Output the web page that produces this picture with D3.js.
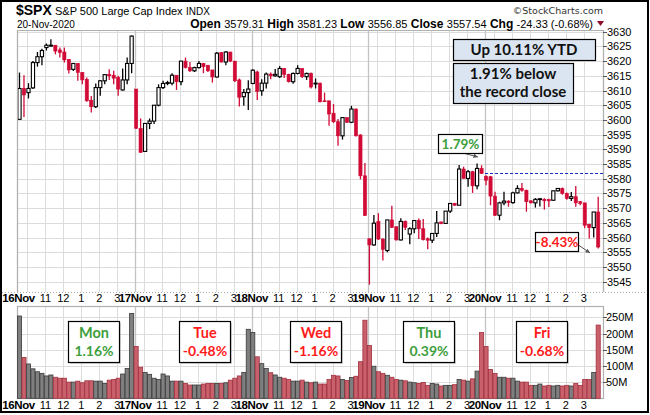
<!DOCTYPE html>
<html><head><meta charset="utf-8">
<script src="https://cdn.jsdelivr.net/npm/d3@7/dist/d3.min.js"></script>
<style>body{margin:0;background:#fff}svg{display:block}</style>
</head><body><svg id="c" width="650" height="415"></svg>
<script>
// ---------------- DATA ----------------
const days = ["16Nov", "17Nov", "18Nov", "19Nov", "20Nov"];
const barsPerDay = 26; // 15-minute bars 9:30-16:00
const hourTicks = [{bar: 2, label: ""}, {bar: 6, label: "11"}, {bar: 10, label: "12"}, {bar: 14, label: "1"}, {bar: 18, label: "2"}, {bar: 22, label: "3"}];
const open = [3600.2,3610.7,3609.3,3610.9,3619.5,3621.5,3624.6,3625.3,3625.4,3623.8,3623.1,3620.6,3617.2,3619.2,3616.1,3613.8,3606.7,3604.5,3611.0,3613.3,3615.5,3615.2,3614.4,3610.2,3613.6,3619.2,
  3610.5,3597.1,3589.3,3598.8,3599.6,3605.0,3611.0,3612.4,3612.5,3615.2,3613.0,3620.0,3617.8,3616.7,3617.8,3619.2,3618.6,3617.0,3614.6,3622.9,3619.7,3623.1,3620.0,3613.6,3607.9,3609.3,
  3612.4,3616.3,3609.9,3612.5,3615.6,3615.0,3614.7,3617.5,3615.5,3613.0,3615.8,3617.5,3614.7,3615.8,3612.3,3612.5,3606.5,3606.5,3602.3,3599.4,3594.6,3600.8,3599.2,3603.7,3594.9,3581.0,
  3559.6,3557.5,3565.5,3559.5,3555.6,3566.0,3563.7,3559.2,3565.5,3561.2,3563.0,3565.8,3563.0,3559.6,3559.1,3561.4,3565.3,3564.8,3569.0,3571.6,3571.0,3583.3,3580.1,3582.4,3577.6,3583.5,
  3580.8,3580.7,3574.1,3567.6,3571.8,3572.4,3571.9,3575.2,3576.7,3576.1,3572.5,3571.8,3573.0,3573.0,3572.9,3572.7,3575.9,3576.7,3575.0,3573.3,3573.9,3572.2,3571.8,3564.5,3563.4,3568.7];
const high = [3616.1,3615.2,3612.5,3620.0,3623.1,3624.2,3626.0,3627.4,3625.4,3624.6,3624.6,3620.6,3619.4,3619.4,3616.3,3614.4,3608.1,3612.4,3613.6,3615.5,3617.2,3616.7,3615.0,3617.5,3621.2,3628.7,
  3610.5,3600.5,3598.8,3600.5,3605.0,3612.1,3613.3,3613.3,3615.9,3615.2,3620.0,3621.2,3619.7,3618.1,3620.0,3619.4,3618.6,3617.0,3623.1,3623.1,3623.4,3623.1,3620.0,3614.1,3610.5,3613.5,
  3617.2,3616.7,3613.8,3616.1,3616.1,3617.3,3618.3,3617.7,3615.7,3616.1,3618.6,3617.5,3616.1,3616.1,3614.1,3612.7,3609.3,3606.5,3605.4,3600.3,3600.8,3600.8,3604.8,3603.9,3595.1,3585.4,
  3559.6,3567.7,3568.3,3559.8,3566.0,3570.8,3563.7,3566.6,3565.8,3563.5,3566.0,3566.5,3566.3,3560.0,3561.4,3569.0,3565.5,3569.0,3571.6,3571.8,3584.7,3584.1,3583.0,3582.7,3585.2,3584.6,
  3581.2,3580.9,3575.6,3572.2,3575.6,3572.7,3575.6,3577.8,3578.6,3576.3,3572.7,3573.4,3573.4,3573.4,3573.2,3575.9,3576.9,3577.0,3575.3,3575.5,3577.5,3572.4,3571.8,3564.7,3568.7,3573.9];
const low = [3600.2,3601.0,3607.3,3610.5,3618.1,3618.6,3623.6,3624.9,3622.3,3621.2,3619.5,3615.8,3616.6,3613.3,3612.1,3606.2,3602.5,3604.1,3608.2,3612.1,3613.6,3612.1,3608.2,3609.9,3612.1,3615.9,
  3596.9,3588.8,3589.2,3596.9,3598.6,3604.6,3610.5,3611.8,3611.8,3610.2,3611.8,3617.5,3616.3,3616.3,3617.5,3615.9,3616.3,3612.7,3614.4,3619.5,3618.6,3619.7,3612.9,3604.6,3604.8,3603.4,
  3612.1,3606.8,3608.2,3610.7,3613.8,3614.7,3614.3,3614.3,3612.7,3612.3,3615.5,3614.3,3613.6,3610.7,3610.7,3605.9,3606.1,3598.0,3598.9,3591.2,3593.3,3599.0,3598.9,3594.4,3579.8,3567.3,
  3544.0,3557.2,3559.2,3552.2,3555.0,3563.3,3559.0,3559.0,3562.6,3557.7,3561.5,3559.5,3559.0,3556.0,3558.2,3560.2,3564.5,3564.6,3568.4,3570.8,3571.0,3580.0,3577.3,3575.2,3576.4,3581.6,
  3577.8,3571.0,3567.3,3565.9,3571.0,3570.5,3571.5,3575.0,3575.6,3568.8,3571.6,3570.2,3570.6,3569.5,3570.4,3572.4,3575.7,3574.6,3572.9,3572.4,3570.5,3571.0,3563.2,3559.7,3560.0,3556.3];
const close = [3610.7,3608.5,3610.7,3619.5,3621.5,3623.6,3625.4,3625.4,3623.4,3622.9,3620.4,3617.0,3619.2,3616.1,3613.6,3606.5,3604.5,3611.0,3613.3,3615.4,3615.0,3614.2,3610.5,3613.6,3619.2,3628.5,
  3597.2,3589.0,3598.8,3599.6,3605.0,3611.0,3612.4,3612.7,3615.2,3613.0,3620.0,3617.8,3616.7,3617.8,3619.2,3618.1,3616.7,3614.6,3622.7,3619.7,3623.1,3620.0,3613.3,3607.7,3609.3,3610.5,
  3616.9,3609.7,3612.5,3615.6,3615.0,3615.5,3617.5,3615.5,3613.0,3615.8,3617.5,3614.7,3615.8,3611.2,3612.5,3606.2,3606.2,3602.0,3599.4,3594.6,3600.8,3599.2,3603.7,3594.6,3581.0,3567.5,
  3557.5,3564.9,3559.5,3556.0,3566.0,3563.5,3559.2,3565.5,3563.5,3563.0,3565.8,3563.0,3559.3,3559.1,3561.4,3565.0,3564.8,3569.0,3571.6,3571.0,3583.3,3580.1,3582.4,3577.6,3583.5,3581.8,
  3579.5,3574.1,3567.6,3571.8,3572.4,3571.9,3575.2,3576.7,3576.1,3572.2,3571.8,3573.0,3573.2,3572.5,3572.5,3575.9,3576.7,3575.0,3573.3,3573.9,3571.8,3571.6,3564.2,3563.4,3568.7,3556.8];
const volume = [254,126,106,91,82,77,69,72,65,62,62,50,50,53,48,54,54,53,53,46,56,58,62,75,92,262,
  160,96,80,74,62,58,75,69,53,53,53,46,41,41,41,44,46,46,46,46,48,56,62,69,80,213,
  203,128,107,92,79,72,65,62,58,53,53,56,50,48,50,44,44,58,71,69,58,55,64,68,113,241,
  163,99,82,77,71,65,58,56,54,50,48,46,49,40,46,44,38,40,40,42,58,56,53,60,84,203,
  160,89,77,65,65,62,62,53,50,50,40,40,44,38,40,38,40,38,40,38,46,40,58,58,80,226];
const priceTicks = d3.range(3545, 3631, 5);
const volTicks = [50, 100, 150, 200, 250];
const lastClosePrev = 3581.87;
const dayNotes = [{day: 0, name: "Mon", chg: "1.16%"}, {day: 1, name: "Tue", chg: "-0.48%"}, {day: 2, name: "Wed", chg: "-1.16%"}, {day: 3, name: "Thu", chg: "0.39%"}, {day: 4, name: "Fri", chg: "-0.68%"}];

// ---------------- LAYOUT ----------------
const svg = d3.select("#c");
const plotL = 17, plotR = 603, pTop = 30, pBot = 292, vTop = 306, vBot = 398;
const n = open.length;
const x = d3.scaleLinear().domain([0, n - 1]).range([19.5, 598.2]);
const y = d3.scaleLinear().domain([3545, 3630]).range([281.7, 31.7]);
const yv = d3.scaleLinear().domain([0, 250]).range([398.3, 317.3]);
const RED = "#d10a36", GREEN = "#3d9e3d", TXTRED = "#ff1a1a";
const lbl = "Liberation Sans, Arial, sans-serif";
const cal = "Lato, 'Open Sans', sans-serif";

svg.append("rect").attr("width", 650).attr("height", 415).attr("fill", "#fff");

// grid positions
const gridBars = [];
days.forEach((d, k) => {
  gridBars.push({i: k * barsPerDay, day: true, label: d});
  hourTicks.forEach(h => gridBars.push({i: k * barsPerDay + h.bar, day: false, label: h.label}));
});
const gx = i => x(i) - 1;

function panelGrid(top, bot, yTicks, ys) {
  const g = svg.append("g");
  g.selectAll("line.h").data(yTicks).join("line")
    .attr("x1", plotL).attr("x2", plotR).attr("y1", d => Math.round(ys(d)) + 0.5).attr("y2", d => Math.round(ys(d)) + 0.5)
    .attr("stroke", "#dcdcdc").attr("stroke-width", 1);
  g.selectAll("line.v").data(gridBars.filter(d => d.i > 0)).join("line")
    .attr("x1", d => Math.round(gx(d.i)) + 0.5).attr("x2", d => Math.round(gx(d.i)) + 0.5).attr("y1", top).attr("y2", bot)
    .attr("stroke", d => d.day ? "#c4c4c4" : "#dcdcdc").attr("stroke-width", d => d.day ? 1.3 : 1);
  return g;
}
panelGrid(pTop, pBot, priceTicks, y);
panelGrid(vTop, vBot, volTicks, yv);

// panel borders
svg.append("line").attr("x1", plotL + 0.5).attr("x2", plotL + 0.5).attr("y1", pTop).attr("y2", pBot).attr("stroke", "#b0b0b0").attr("stroke-width", 1.3);
svg.append("line").attr("x1", plotR + 0.5).attr("x2", plotR + 0.5).attr("y1", pTop).attr("y2", pBot).attr("stroke", "#b0b0b0").attr("stroke-width", 1.3);
svg.append("line").attr("x1", plotL).attr("x2", plotR).attr("y1", pTop + 0.5).attr("y2", pTop + 0.5).attr("stroke", "#b0b0b0");
svg.append("line").attr("x1", 2).attr("x2", 648).attr("y1", pBot + 0.5).attr("y2", pBot + 0.5).attr("stroke", "#aaa").attr("stroke-dasharray", "1,2");
svg.append("rect").attr("x", plotL + 0.5).attr("y", vTop + 0.5).attr("width", plotR - plotL).attr("height", vBot - vTop).attr("fill", "none").attr("stroke", "#b0b0b0").attr("stroke-width", 1.2);

// x-axis labels (two rows)
[pBot + 10, vBot + 11].forEach(yy => {
  svg.append("g").selectAll("text").data(gridBars.filter(d => d.label)).join("text")
    .attr("x", d => gx(d.i)).attr("y", yy).attr("text-anchor", "middle")
    .attr("font-family", lbl).attr("font-size", d => d.day ? 11.5 : 11).attr("font-weight", d => d.day ? "bold" : "normal")
    .attr("letter-spacing", d => d.day ? -0.4 : 0)
    .attr("fill", "#000").text(d => d.label);
});

// price axis
const pa = svg.append("g");
pa.selectAll("line").data(priceTicks).join("line").attr("x1", plotR).attr("x2", plotR + 4)
  .attr("y1", d => Math.round(y(d)) + 0.5).attr("y2", d => Math.round(y(d)) + 0.5).attr("stroke", "#555");
pa.selectAll("text").data(priceTicks).join("text").attr("x", plotR + 4).attr("y", d => y(d) + 4)
  .attr("font-family", lbl).attr("font-size", 11).attr("fill", "#000").text(d => d);
const va = svg.append("g");
va.selectAll("line").data(volTicks).join("line").attr("x1", plotR).attr("x2", plotR + 4)
  .attr("y1", d => Math.round(yv(d)) + 0.5).attr("y2", d => Math.round(yv(d)) + 0.5).attr("stroke", "#555");
va.selectAll("text").data(volTicks).join("text").attr("x", plotR + 3).attr("y", d => yv(d) + 4)
  .attr("font-family", lbl).attr("font-size", 11).attr("fill", "#000").text(d => d + "M");

// clip
svg.append("clipPath").attr("id", "pc").append("rect").attr("x", plotL + 1).attr("y", pTop + 1).attr("width", plotR - plotL - 1).attr("height", pBot - pTop - 1);

// dashed previous close line
svg.append("line").attr("x1", gx(4 * barsPerDay)).attr("x2", plotR).attr("y1", Math.round(y(lastClosePrev)) + 0.5).attr("y2", Math.round(y(lastClosePrev)) + 0.5)
  .attr("stroke", "#1a2bbf").attr("stroke-width", 1).attr("stroke-dasharray", "3,2");

// candles
const bars = d3.range(n).map(i => ({i, o: open[i], h: high[i], l: low[i], c: close[i], v: volume[i], up: close[i] >= open[i]}));
const cg = svg.append("g").attr("clip-path", "url(#pc)");
const bw = 3.2;
cg.selectAll("line").data(bars).join("line")
  .attr("x1", d => x(d.i)).attr("x2", d => x(d.i)).attr("y1", d => y(d.h)).attr("y2", d => y(d.l))
  .attr("stroke", d => d.up ? "#000" : RED).attr("stroke-width", 1.3);
cg.selectAll("rect").data(bars).join("rect")
  .attr("x", d => x(d.i) - bw / 2).attr("width", bw)
  .attr("y", d => y(Math.max(d.o, d.c))).attr("height", d => Math.max(0.8, Math.abs(y(d.o) - y(d.c))))
  .attr("fill", d => d.up ? "#fff" : RED).attr("stroke", d => d.up ? "#000" : RED).attr("stroke-width", d => d.up ? 1.1 : 0.6);

// volume
svg.append("g").selectAll("rect").data(bars).join("rect")
  .attr("x", d => x(d.i) - 2.05).attr("width", 4.1)
  .attr("y", d => yv(d.v)).attr("height", d => yv(0) - yv(d.v))
  .attr("fill", d => d.up ? "#7f7f7f" : "#c9616c").attr("stroke", d => d.up ? "#3a3a3a" : "#a22f3e").attr("stroke-width", 0.8);

// header
function hText(xp, yp, txt, size, weight, fam, fill) {
  return svg.append("text").attr("x", xp).attr("y", yp).attr("font-family", fam || lbl).attr("font-size", size)
    .attr("font-weight", weight || "normal").attr("fill", fill || "#000").text(txt);
}
hText(16, 15, "$SPX", 14, "bold");
hText(55, 14.5, "S&P 500 Large Cap Index", 11);
hText(186, 14.5, "INDX", 10);
hText(17, 27.5, "20-Nov-2020", 10);
hText(603, 13.5, "\u00A9StockCharts.com", 9.5, "normal", "DejaVu Sans, sans-serif", "#333").attr("text-anchor", "end");
const info = svg.append("text").attr("x", 593).attr("y", 27.5).attr("text-anchor", "end").attr("font-family", lbl).attr("font-size", 11);
[["Open", "3579.31"], ["High", "3581.23"], ["Low", "3556.85"], ["Close", "3557.54"], ["Chg", "-24.33 (-0.68%)"]].forEach((p, k) => {
  info.append("tspan").attr("font-weight", "bold").attr("font-size", 12).text((k ? "  " : "") + p[0] + " ");
  info.append("tspan").text(p[1]);
});
svg.append("path").attr("d", "M597,21 L604,21 L600.5,26 Z").attr("fill", "#8e0b2b");

// annotation boxes top-right
function box(x0, y0, w, h, fill, shadow) {
  if (shadow) svg.append("rect").attr("x", x0 + 2).attr("y", y0 + 2).attr("width", w).attr("height", h).attr("fill", "#bbb").attr("opacity", 0.6);
  svg.append("rect").attr("x", x0 + 0.5).attr("y", y0 + 0.5).attr("width", w).attr("height", h).attr("fill", fill).attr("stroke", "#000").attr("stroke-width", 1.2);
}
box(453, 39, 142, 21, "#dbe5f1", false);
svg.append("text").attr("x", 524).attr("y", 55).attr("text-anchor", "middle").attr("font-family", cal).attr("font-weight", "bold").attr("font-size", 15).attr("fill", "#111").text("Up 10.11% YTD");
box(453, 63, 120, 40, "#dbe5f1", false);
svg.append("text").attr("x", 513).attr("y", 79).attr("text-anchor", "middle").attr("font-family", cal).attr("font-weight", "bold").attr("font-size", 15).attr("fill", "#111").text("1.91% below");
svg.append("text").attr("x", 513).attr("y", 97).attr("text-anchor", "middle").attr("font-family", cal).attr("font-weight", "bold").attr("font-size", 15).attr("fill", "#111").text("the record close");

// callouts
function callout(x0, y0, w, h, txt, col, ax1, ay1, ax2, ay2) {
  svg.append("line").attr("x1", ax1).attr("y1", ay1).attr("x2", ax2).attr("y2", ay2).attr("stroke", "#555").attr("stroke-width", 1);
  const ang = Math.atan2(ay2 - ay1, ax2 - ax1);
  const L = 5, s = 0.45;
  svg.append("path").attr("d", `M${ax2},${ay2} L${ax2 - L * Math.cos(ang - s)},${ay2 - L * Math.sin(ang - s)} L${ax2 - L * Math.cos(ang + s)},${ay2 - L * Math.sin(ang + s)} Z`).attr("fill", "#555");
  box(x0, y0, w, h, "#fff", false);
  svg.append("text").attr("x", x0 + w / 2 + 0.5).attr("y", y0 + h / 2 + 5).attr("text-anchor", "middle").attr("font-family", cal).attr("font-weight", "bold").attr("font-size", 13.5).attr("fill", col).text(txt);
}
callout(438, 134, 44, 19, "1.79%", GREEN, 463, 153, 478, 157);
callout(535, 232, 43, 19, "-8.43%", TXTRED, 577, 244, 590, 253);

// day notes in volume panel
const noteX = [68, 179, 290, 403, 516];
dayNotes.forEach((d, k) => {
  const col = d.chg.startsWith("-") ? TXTRED : GREEN;
  const x0 = noteX[k], w = 51, y0 = 321, h = 41;
  box(x0, y0, w, h, "#fff", true);
  svg.append("text").attr("x", x0 + w / 2 + 0.5).attr("y", y0 + 17).attr("text-anchor", "middle").attr("font-family", cal).attr("font-weight", "bold").attr("font-size", 14.5).attr("fill", col).text(d.name);
  svg.append("text").attr("x", x0 + w / 2 + 0.5).attr("y", y0 + 35).attr("text-anchor", "middle").attr("font-family", cal).attr("font-weight", "bold").attr("font-size", 14).attr("fill", col).text(d.chg);
});

// outer frame
svg.append("rect").attr("x", 1).attr("y", 1).attr("width", 647).attr("height", 411).attr("fill", "none").attr("stroke", "#000").attr("stroke-width", 2);
</script></body></html>
